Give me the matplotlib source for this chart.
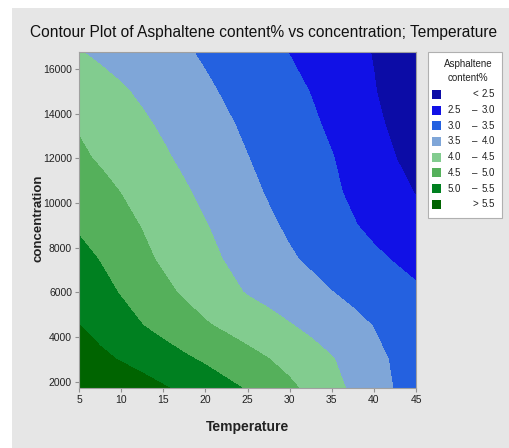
import matplotlib
matplotlib.use('Agg')
import matplotlib.pyplot as plt
from matplotlib.patches import Rectangle
import numpy as np

plt.rcParams['font.family'] = ['Liberation Sans', 'DejaVu Sans']

# Grid (Temperature columns, concentration rows)
temperature = [5, 7.5, 10, 12.5, 15, 17.5, 20, 22.5, 25, 27.5, 30, 32.5, 35, 37.5, 40, 42.5, 45]
concentration = [1720, 3000, 4500, 6000, 7500, 9000, 10500, 12000, 13500, 15000, 16760]

# Asphaltene content% at each (concentration, temperature) node, bottom row first
asphaltene = [
    [6.11, 5.97, 5.82, 5.68, 5.54, 5.40, 5.26, 5.11, 4.96, 4.78, 4.59, 4.38, 4.15, 3.92, 3.68, 3.48, 3.40],
    [5.73, 5.60, 5.47, 5.34, 5.21, 5.07, 4.94, 4.79, 4.65, 4.51, 4.35, 4.19, 4.03, 3.82, 3.61, 3.45, 3.35],
    [5.51, 5.35, 5.18, 5.01, 4.86, 4.71, 4.55, 4.42, 4.29, 4.16, 4.03, 3.90, 3.76, 3.62, 3.49, 3.37, 3.25],
    [5.33, 5.15, 4.97, 4.79, 4.61, 4.44, 4.28, 4.12, 3.97, 3.86, 3.74, 3.63, 3.51, 3.40, 3.29, 3.18, 3.07],
    [5.16, 4.98, 4.79, 4.60, 4.43, 4.28, 4.12, 3.97, 3.83, 3.69, 3.55, 3.43, 3.31, 3.20, 3.08, 2.97, 2.86],
    [4.93, 4.78, 4.63, 4.48, 4.32, 4.17, 4.02, 3.87, 3.72, 3.57, 3.43, 3.29, 3.16, 3.03, 2.90, 2.77, 2.64],
    [4.78, 4.64, 4.49, 4.34, 4.19, 4.05, 3.90, 3.75, 3.61, 3.46, 3.33, 3.20, 3.07, 2.93, 2.78, 2.63, 2.48],
    [4.58, 4.45, 4.32, 4.19, 4.06, 3.92, 3.79, 3.65, 3.51, 3.39, 3.26, 3.14, 3.02, 2.86, 2.68, 2.51, 2.34],
    [4.46, 4.33, 4.20, 4.07, 3.94, 3.81, 3.68, 3.55, 3.43, 3.31, 3.19, 3.07, 2.93, 2.76, 2.59, 2.42, 2.25],
    [4.29, 4.17, 4.05, 3.93, 3.81, 3.69, 3.57, 3.45, 3.34, 3.22, 3.11, 2.99, 2.84, 2.68, 2.52, 2.36, 2.20],
    [4.02, 3.92, 3.83, 3.73, 3.64, 3.55, 3.44, 3.33, 3.22, 3.11, 2.99, 2.87, 2.74, 2.61, 2.48, 2.35, 2.22],
]

levels = [0, 2.5, 3.0, 3.5, 4.0, 4.5, 5.0, 5.5, 10]
band_labels = [('', '<', '2.5'), ('2.5', '\u2013', '3.0'), ('3.0', '\u2013', '3.5'), ('3.5', '\u2013', '4.0'),
               ('4.0', '\u2013', '4.5'), ('4.5', '\u2013', '5.0'), ('5.0', '\u2013', '5.5'), ('', '>', '5.5')]
colors = ['#0c0ca6', '#1111e6', '#2461e0', '#7fa6d8', '#82cc8f', '#55b05b', '#008020', '#006400']

W, H = 509, 448


def fx(x):
    return x / W


def fy(y):
    return 1 - y / H


fig = plt.figure(figsize=(W / 100, H / 100), dpi=100, facecolor='white')
# grey panel (thin white strip at left and top like the original)
fig.patches.append(Rectangle((fx(12), 0), 1 - fx(12), fy(8), transform=fig.transFigure,
                             facecolor='#e6e6e6', edgecolor='none', zorder=-10))

ax = fig.add_axes([fx(79), fy(388), fx(416) - fx(79), fy(52) - fy(388)])
T, C = np.meshgrid(temperature, concentration)
ax.contourf(T, C, np.array(asphaltene), levels=levels, colors=colors)

ax.set_xlim(5, 45)
ax.set_ylim(1720, 16760)
ax.set_xticks([5, 10, 15, 20, 25, 30, 35, 40, 45])
ax.set_yticks([2000, 4000, 6000, 8000, 10000, 12000, 14000, 16000])
ax.tick_params(labelsize=7.5, length=3, width=0.8, color='#909090', labelcolor='#222222', pad=2)
for s in ax.spines.values():
    s.set_color('#a0a0a0')
    s.set_linewidth(0.8)

fig.text(fx(263.5), fy(32), 'Contour Plot of Asphaltene content% vs concentration; Temperature',
         ha='center', va='center', fontsize=11.2, color='#111111')
fig.text(fx(247.5), fy(427), 'Temperature', ha='center', va='center', fontsize=10,
         fontweight='bold', color='#222222')
fig.text(fx(38), fy(218), 'concentration', ha='center', va='center', fontsize=9.5,
         fontweight='bold', rotation=90, color='#222222')

# legend box drawn by hand
fig.patches.append(Rectangle((fx(428), fy(218)), fx(502) - fx(428), fy(52) - fy(218),
                             transform=fig.transFigure, facecolor='white', edgecolor='#b0b0b0',
                             linewidth=0.8))
fig.text(fx(468), fy(64), 'Asphaltene', ha='center', va='center', fontsize=7, color='#222222')
fig.text(fx(468), fy(78), 'content%', ha='center', va='center', fontsize=7, color='#222222')
for i, (lo, sep, hi) in enumerate(band_labels):
    yc = 94.3 + i * 15.7
    fig.patches.append(Rectangle((fx(432), fy(yc + 4.5)), fx(9), 9 / H, transform=fig.transFigure,
                                 facecolor=colors[i], edgecolor='none'))
    if lo:
        fig.text(fx(448), fy(yc), lo, ha='left', va='center', fontsize=7, color='#222222')
    fig.text(fx(475), fy(yc), sep, ha='center', va='center', fontsize=7, color='#222222')
    fig.text(fx(495), fy(yc), hi, ha='right', va='center', fontsize=7, color='#222222')

fig.savefig('out.png', dpi=100, facecolor=fig.get_facecolor())
